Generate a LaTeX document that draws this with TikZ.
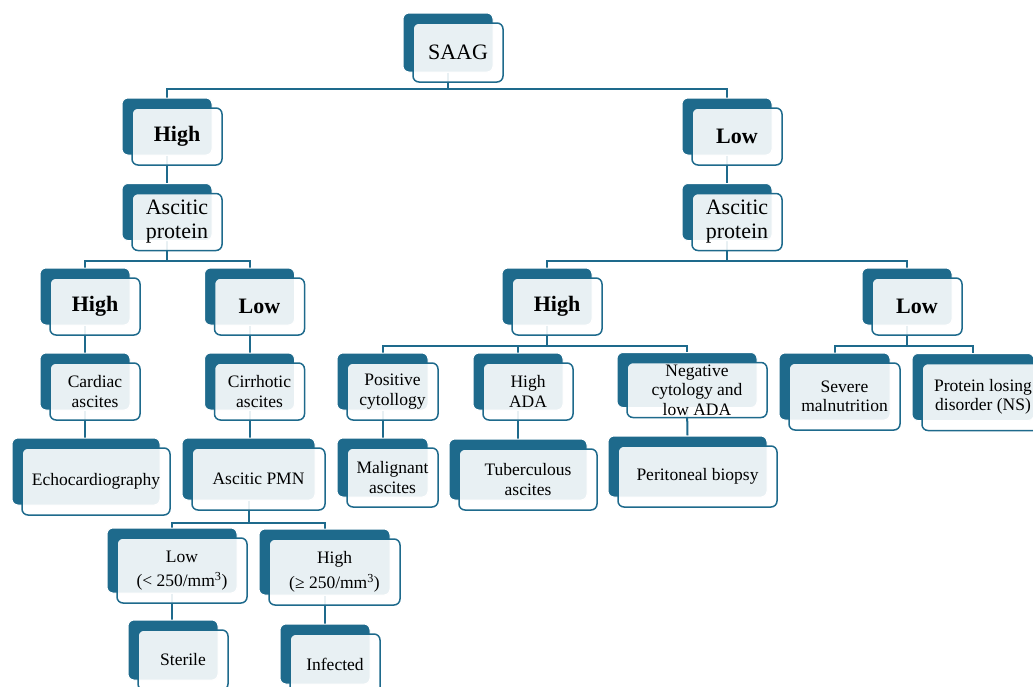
\documentclass[tikz,border=0pt]{standalone}
\usepackage{fontspec}
\setmainfont{Liberation Serif}
\usetikzlibrary{backgrounds}
\definecolor{saagblue}{RGB}{30,106,140}
\newcommand{\bigtxt}{\fontsize{22}{24}\selectfont}
\newcommand{\smalltxt}{\fontsize{17.5}{19.5}\selectfont}
\tikzset{
	backbox/.style={fill=saagblue, draw=white, line width=1pt, rounded corners=6pt},
	frontbox/.style={fill=white, fill opacity=0.9, text opacity=1, draw=saagblue, line width=1.5pt, rounded corners=6pt, align=center, inner sep=2pt},
	link/.style={draw=saagblue, line width=2pt}
}
\newcommand{\saagbox}[7] % name, x, y (centre of back box, px), width, height, font, text
{
	% dark box behind
	\node[backbox, minimum width=#4pt, minimum height=#5pt] (#1) at (#2,#3) {};
	% light box in front, 10px right and down
	\node[frontbox, font=#6, minimum width=#4pt, minimum height=#5pt] (#1-f) at ([shift={(10,10)}]#1.center) {#7};
}
\begin{document}
\begin{tikzpicture}[x=1pt, y=-1pt]
	% page 1033 x 686 px, y runs down
	\useasboundingbox (0,0) rectangle (1033,686);

	% root
	\saagbox{saag}{448}{42.5}{90}{59}{\bigtxt}{SAAG}

	% high / low SAAG
	\saagbox{hiL}{167}{126.5}{90}{57}{\bigtxt\bfseries}{High}
	\saagbox{loR}{727}{126.5}{90}{57}{\bigtxt\bfseries}{Low}
	\saagbox{apL}{167}{212}{90}{57}{\bigtxt}{Ascitic\\protein}
	\saagbox{apR}{727}{212}{90}{57}{\bigtxt}{Ascitic\\protein}

	% ascitic protein
	\saagbox{hiLL}{85}{296.5}{90}{57}{\bigtxt\bfseries}{High}
	\saagbox{loLR}{249.5}{296.5}{90}{57}{\bigtxt\bfseries}{Low}
	\saagbox{hiRL}{547}{296.5}{90}{57}{\bigtxt\bfseries}{High}
	\saagbox{loRR}{907}{296.5}{90}{57}{\bigtxt\bfseries}{Low}

	% fifth row
	\saagbox{card}{85}{381.5}{90}{57}{\smalltxt}{Cardiac\\ascites}
	\saagbox{cirr}{249.5}{381.5}{90}{57}{\smalltxt}{Cirrhotic\\ascites}
	\saagbox{posc}{382.5}{381.5}{91}{57}{\smalltxt}{Positive\\cytollogy}
	\saagbox{hada}{518}{381.5}{90}{57}{\smalltxt}{High\\ADA}
	\saagbox{negc}{687}{380}{140}{55}{\smalltxt}{Negative\\cytology and\\low ADA}
	\saagbox{malnu}{834.5}{386.5}{111}{67}{\smalltxt}{Severe\\malnutrition}
	\saagbox{plose}{973}{387}{122}{67}{\smalltxt}{Protein losing\\disorder (NS)}

	% sixth row
	\saagbox{echo}{86}{471.5}{148}{67}{\smalltxt}{Echocardiography}
	\saagbox{pmn}{248.5}{469}{133}{62}{\smalltxt}{Ascitic PMN}
	\saagbox{malig}{382.5}{467.5}{91}{59}{\smalltxt}{Malignant\\ascites}
	\saagbox{tbc}{518}{469.5}{138}{61}{\smalltxt}{Tuberculous\\ascites}
	\saagbox{biop}{687.5}{466.5}{159}{61}{\smalltxt}{Peritoneal biopsy}

	% PMN count
	\saagbox{pmnlo}{172}{560.5}{130}{65}{\smalltxt}{Low\\[5pt](< 250/mm\textsuperscript{3})}
	\saagbox{pmnhi}{324.5}{562}{131}{66}{\smalltxt}{High\\[5pt](≥ 250/mm\textsuperscript{3})}
	\saagbox{steril}{173}{650}{90}{60}{\smalltxt}{Sterile}
	\saagbox{infect}{325}{654}{90}{60}{\smalltxt}{Infected}

	% connectors
	\begin{pgfonlayer}{background}
	\draw[link] (saag.south) -- ++(0,16) -| (hiL.north);
	\draw[link] (saag.south) -- ++(0,16) -| (loR.north);
	\draw[link] (hiL.south) -- (apL.north);
	\draw[link] (loR.south) -- (apR.north);
	\draw[link] (apL.south) -- ++(0,19.5) -| (hiLL.north);
	\draw[link] (apL.south) -- ++(0,19.5) -| (loLR.north);
	\draw[link] (apR.south) -- ++(0,19.5) -| (hiRL.north);
	\draw[link] (apR.south) -- ++(0,19.5) -| (loRR.north);
	\draw[link] (hiRL.south) -- ++(0,20) -| (posc.north);
	\draw[link] (hiRL.south) -- ++(0,20) -| (hada.north);
	\draw[link] (hiRL.south) -- ++(0,20) -| (negc.north);
	\draw[link] (loRR.south) -- ++(0,20) -| (malnu.north);
	\draw[link] (loRR.south) -- ++(0,20) -| (plose.north);
	\draw[link] (hiLL.south) -- (card.north);
	\draw[link] (loLR.south) -- (cirr.north);
	\draw[link] (card.south) -- (card.south |- echo.north);
	\draw[link] (cirr.south) -- (cirr.south |- pmn.north);
	\draw[link] (posc.south) -- (malig.north);
	\draw[link] (hada.south) -- (tbc.north);
	\draw[link] (negc.south) -- (biop.north);
	\draw[link] (pmn.south) -- ++(0,22) -| (pmnlo.north);
	\draw[link] (pmn.south) -- ++(0,22) -| (pmnhi.north);
	\draw[link] (pmnlo.south) -- (pmnlo.south |- steril.north);
	\draw[link] (pmnhi.south) -- (pmnhi.south |- infect.north);
	\end{pgfonlayer}
\end{tikzpicture}
\end{document}
